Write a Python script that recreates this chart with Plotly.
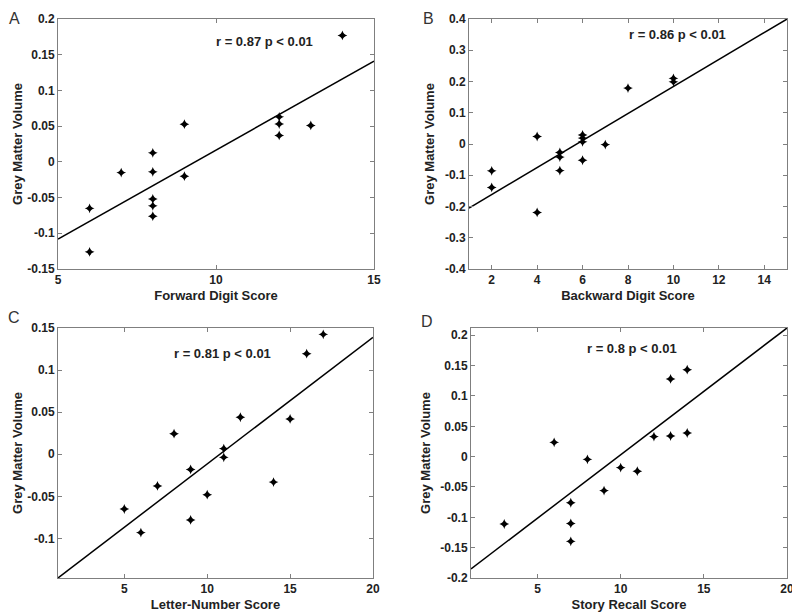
import plotly.graph_objects as go

# ---------------- data ----------------
# Panel A: Forward Digit Score
a_x = [6, 6, 7, 8, 8, 8, 8, 8, 9, 9, 12, 12, 12, 13, 14]
a_y = [-0.065, -0.126, -0.015, 0.0126, -0.014, -0.052, -0.0615, -0.076,
       0.0527, -0.020, 0.063, 0.053, 0.037, 0.051, 0.177]
a_fit = (0.0249, -0.2325)          # slope, intercept

# Panel B: Backward Digit Score
b_x = [2, 2, 4, 4, 5, 5, 5, 6, 6, 6, 6, 7, 8, 10, 10]
b_y = [-0.086, -0.139, 0.024, -0.219, -0.027, -0.042, -0.085, 0.029,
       0.019, 0.007, -0.052, -0.002, 0.179, 0.210, 0.199]
b_fit = (0.0432, -0.2482)

# Panel C: Letter-Number Score
c_x = [5, 6, 7, 8, 9, 9, 10, 11, 11, 12, 14, 15, 16, 17]
c_y = [-0.065, -0.093, -0.0376, 0.0245, -0.018, -0.078, -0.048, 0.0067,
       -0.0036, 0.044, -0.033, 0.042, 0.1195, 0.1425]
c_fit = (0.01505, -0.162)

# Panel D: Story Recall Score
d_x = [3, 6, 7, 7, 7, 8, 9, 10, 11, 12, 13, 13, 14, 14]
d_y = [-0.111, 0.0236, -0.076, -0.110, -0.1396, -0.0044, -0.056, -0.018,
       -0.024, 0.033, 0.128, 0.034, 0.1434, 0.039]
d_fit = (0.0209, -0.2059)

panel_letters = ["A", "B", "C", "D"]
x_titles = ["Forward Digit Score", "Backward Digit Score",
            "Letter-Number Score", "Story Recall Score"]
y_title = "Grey Matter Volume"
stats_text = ["r = 0.87 p < 0.01", "r = 0.86 p < 0.01",
              "r = 0.81 p < 0.01", "r = 0.8 p < 0.01"]

a_xticks = [5, 10, 15]
a_yticks = [-0.15, -0.1, -0.05, 0, 0.05, 0.1, 0.15, 0.2]
a_ytext = ["-0.15", "-0.1", "-0.05", "0", "0.05", "0.1", "0.15", "0.2"]
b_xticks = [2, 4, 6, 8, 10, 12, 14]
b_yticks = [-0.4, -0.3, -0.2, -0.1, 0, 0.1, 0.2, 0.3, 0.4]
b_ytext = ["-0.4", "-0.3", "-0.2", "-0.1", "0", "0.1", "0.2", "0.3", "0.4"]
c_xticks = [5, 10, 15, 20]
c_yticks = [-0.1, -0.05, 0, 0.05, 0.1, 0.15]
c_ytext = ["-0.1", "-0.05", "0", "0.05", "0.1", "0.15"]
d_xticks = [5, 10, 15, 20]
d_yticks = [-0.2, -0.15, -0.1, -0.05, 0, 0.05, 0.1, 0.15, 0.2]
d_ytext = ["-0.2", "-0.15", "-0.1", "-0.05", "0", "0.05", "0.1", "0.15", "0.2"]

x_ranges = [[5, 15], [1, 15], [1, 20], [1, 20]]
y_ranges = [[-0.15, 0.2], [-0.4, 0.4], [-0.147, 0.15], [-0.2, 0.212]]

# ---------------- layout ----------------
# The page body has an 8px margin: the figure starts 8px in from the
# window's top-left corner, so screen positions are shifted by 8px.
W, H, OFF = 792, 606, 8
FONT = "Arial, Liberation Sans, sans-serif"


def dx(a, b):
    return [(a - OFF) / W, (b - OFF) / W]


def dy(top, bottom):
    return [1 - (bottom - OFF) / H, 1 - (top - OFF) / H]


x_domains = [dx(58, 374), dx(469, 787), dx(58, 373), dx(471, 787)]
y_domains = [dy(19, 269), dy(19, 269), dy(328, 578), dy(328, 578)]
y_standoff = [1, 7, 1, 6]
stat_pos = [(11.55, 0.169), (10.2, 0.352), (10.95, 0.120), (10.68, 0.179)]
# (screen x, screen y of the text box top)
letter_pos = [(14, 8), (428, 8), (14, 307), (427, 311)]

panels = [
    (a_x, a_y, a_fit, a_xticks, a_yticks, a_ytext),
    (b_x, b_y, b_fit, b_xticks, b_yticks, b_ytext),
    (c_x, c_y, c_fit, c_xticks, c_yticks, c_ytext),
    (d_x, d_y, d_fit, d_xticks, d_yticks, d_ytext),
]

fig = go.Figure()
annotations = []
for i, (xs, ys, fit, xt, yt, ytt) in enumerate(panels):
    n = "" if i == 0 else str(i + 1)
    xa, ya = "x" + n, "y" + n
    slope, icpt = fit
    lx = x_ranges[i]
    ly = [slope * v + icpt for v in lx]
    fig.add_trace(go.Scatter(x=lx, y=ly, mode="lines", xaxis=xa, yaxis=ya,
                             line=dict(color="black", width=1.5),
                             showlegend=False, hoverinfo="skip"))
    fig.add_trace(go.Scatter(x=xs, y=ys, mode="markers", xaxis=xa, yaxis=ya,
                             marker=dict(symbol="star-diamond", size=7, color="black"),
                             showlegend=False, cliponaxis=False))
    axcommon = dict(showline=True, linecolor="#7f7f7f", linewidth=1, mirror="ticks",
                    ticks="inside", ticklen=4, tickcolor="#7f7f7f", showgrid=False,
                    zeroline=False, automargin=False, ticklabeloverflow="allow",
                    tickfont=dict(family=FONT, size=12, color="#222222", weight="bold"))
    fig.layout["xaxis" + n] = dict(
        axcommon, domain=x_domains[i], anchor=ya, range=lx,
        tickvals=xt, ticktext=[str(v) for v in xt],
        title=dict(text=x_titles[i], standoff=4,
                   font=dict(family=FONT, size=13, color="#222222", weight="bold")))
    fig.layout["yaxis" + n] = dict(
        axcommon, domain=y_domains[i], anchor=xa, range=y_ranges[i],
        tickvals=yt, ticktext=ytt,
        title=dict(text=y_title, standoff=y_standoff[i],
                   font=dict(family=FONT, size=13, color="#222222", weight="bold")))
    sx, sy = stat_pos[i]
    annotations.append(dict(x=sx, y=sy, xref=xa, yref=ya, text=stats_text[i],
                            showarrow=False,
                            font=dict(family=FONT, size=13, color="#222222", weight="bold")))
    px, py = letter_pos[i]
    annotations.append(dict(x=(px - OFF) / W, y=1 - (py - OFF) / H,
                            xref="paper", yref="paper",
                            text=panel_letters[i], showarrow=False,
                            xanchor="center", yanchor="top",
                            font=dict(family=FONT, size=16, color="#333333")))

fig.update_layout(width=W, height=H, margin=dict(l=0, r=0, t=0, b=0),
                  paper_bgcolor="white", plot_bgcolor="white",
                  annotations=annotations, showlegend=False)

fig.write_html("out.html")
